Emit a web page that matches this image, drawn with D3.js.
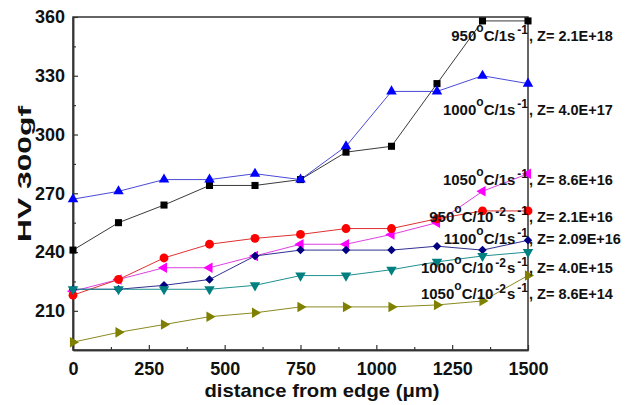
<!DOCTYPE html>
<html>
<head>
<meta charset="utf-8">
<script src="https://cdn.jsdelivr.net/npm/d3@7"></script>
<style>
  html, body { margin: 0; padding: 0; background: #fff; }
  svg text { font-family: "Liberation Sans", Arial, sans-serif; font-weight: bold; fill: #111; }
</style>
</head>
<body>
<svg id="chart" width="635" height="405"></svg>
<script>
// distance from edge (um)
const distances = [0, 150, 300, 450, 600, 750, 900, 1050, 1200, 1350, 1500];

// HV 300gf for each deformation condition
const hv950_1s = [241, 255, 264, 274, 274, 277, 291, 294, 326, 358, 358];
const hv1000_1s = [267, 271, 277, 277, 280, 277, 294, 322, 322, 330, 326];
const hv1050_1s = [220, 226, 232, 232, 238, 244, 244, 249, 255, 271, 280];
const hv950_slow = [218, 226, 237, 244, 247, 249, 252, 252, 257, 261, 261];
const hv1100_1s = [221, 221, 223, 226, 238, 241, 241, 241, 243, 241, 246];
const hv1000_slow = [221, 221, 221, 221, 223, 228, 228, 231, 235, 238, 240];
const hv1050_slow = [194, 199, 203, 207, 209, 212, 212, 212, 213, 215, 228];

// annotation text
const temps = ["950", "1000", "1050", "950", "1100", "1000", "1050"];
const slowRate = [false, false, false, true, false, true, true];
const zValues = ["2.1E+18", "4.0E+17", "8.6E+16", "2.1E+16", "2.09E+16", "4.0E+15", "8.6E+14"];
// annotation height in HV units
const labelHV = [347.8, 310, 274.3, 255.4, 244.2, 229.4, 216.1];

const xTicks = [0, 250, 500, 750, 1000, 1250, 1500];
const yTicks = [210, 240, 270, 300, 330, 360];

const series = [
  { values: hv950_1s, color: "#000000", line: "#3a3a3a", shape: "square" },
  { values: hv1000_1s, color: "#0000ff", line: "#4a4ad8", shape: "up" },
  { values: hv1050_1s, color: "#ff00ff", line: "#e040e0", shape: "left" },
  { values: hv950_slow, color: "#ff0000", line: "#e03030", shape: "circle" },
  { values: hv1100_1s, color: "#000080", line: "#303090", shape: "diamond" },
  { values: hv1000_slow, color: "#008080", line: "#209090", shape: "down" },
  { values: hv1050_slow, color: "#808000", line: "#8a8a20", shape: "right" }
];

const svg = d3.select("#chart");
const plot = { left: 73, right: 528, top: 17, bottom: 350 };

const x = d3.scaleLinear().domain([0, 1500]).range([plot.left, plot.right]);
const y = d3.scaleLinear().domain([190, 360]).range([plot.bottom, plot.top]);

// frame
svg.append("rect")
  .attr("x", plot.left).attr("y", plot.top)
  .attr("width", plot.right - plot.left).attr("height", plot.bottom - plot.top)
  .attr("fill", "none").attr("stroke", "#333").attr("stroke-width", 1.5);

// bottom axis, ticks pointing inward
const xAxis = svg.append("g")
  .attr("transform", `translate(0,${plot.bottom})`)
  .call(d3.axisBottom(x).tickValues(xTicks).tickFormat(d3.format("d"))
    .tickSizeInner(-5).tickSizeOuter(0).tickPadding(12));
svg.append("g")
  .attr("transform", `translate(0,${plot.bottom})`)
  .call(d3.axisBottom(x).tickValues([125, 375, 625, 875, 1125, 1375]).tickSizeInner(-3).tickSizeOuter(0).tickFormat(""));

const yAxis = svg.append("g")
  .attr("transform", `translate(${plot.left},0)`)
  .call(d3.axisLeft(y).tickValues(yTicks).tickSizeInner(-5).tickSizeOuter(0).tickPadding(8));
svg.append("g")
  .attr("transform", `translate(${plot.left},0)`)
  .call(d3.axisLeft(y).tickValues([195, 225, 255, 285, 315, 345]).tickSizeInner(-3).tickSizeOuter(0).tickFormat(""));

svg.selectAll(".domain").attr("stroke", "#333").attr("stroke-width", 1.5);
svg.selectAll(".tick line").attr("stroke", "#333").attr("stroke-width", 1.2);
svg.selectAll(".tick text").style("font-size", "18px").attr("fill", "#111");
xAxis.selectAll(".tick text").attr("dy", "0.71em");

// axis titles
svg.append("text")
  .attr("x", 322).attr("y", 397)
  .attr("text-anchor", "middle")
  .style("font-size", "19px")
  .attr("textLength", 235)
  .attr("lengthAdjust", "spacingAndGlyphs")
  .text("distance from edge (\u03bcm)");

svg.append("text")
  .attr("transform", "translate(31,174) rotate(-90)")
  .attr("text-anchor", "middle")
  .style("font-size", "19px")
  .attr("textLength", 136)
  .attr("lengthAdjust", "spacingAndGlyphs")
  .text("HV 300gf");

// markers
function markerPath(shape) {
  if (shape === "square") return d3.symbol(d3.symbolSquare, 50)();
  if (shape === "circle") return d3.symbol(d3.symbolCircle, 62)();
  if (shape === "diamond") return d3.symbol(d3.symbolSquare, 36)();
  return d3.symbol(d3.symbolTriangle, 48)();
}
const rotation = { up: 0, down: 180, left: -90, right: 90, diamond: 45, square: 0, circle: 0 };

const line = d3.line()
  .x((d, i) => x(distances[i]))
  .y(d => y(d));

series.forEach(s => {
  svg.append("path")
    .datum(s.values)
    .attr("d", line)
    .attr("fill", "none")
    .attr("stroke", s.line)
    .attr("stroke-width", 1);
});

series.forEach(s => {
  svg.append("g").selectAll("path")
    .data(s.values)
    .join("path")
    .attr("d", markerPath(s.shape))
    .attr("transform", (d, i) => `translate(${x(distances[i])},${y(d)}) rotate(${rotation[s.shape]})`)
    .attr("fill", s.color);
});

// annotations
temps.forEach((t, i) => {
  const yy = y(labelHV[i]);
  const left = svg.append("text")
    .attr("x", plot.right).attr("y", yy)
    .attr("text-anchor", "end")
    .style("font-size", "15px");
  left.append("tspan").text(t);
  left.append("tspan").attr("dy", -9).style("font-size", "12px").text("o");
  if (slowRate[i]) {
    left.append("tspan").attr("dy", 9).text("C/10");
    left.append("tspan").attr("dy", -6).attr("dx", 2).style("font-size", "12px").text("-2");
    left.append("tspan").attr("dy", 6).attr("dx", 1).text("s");
  } else {
    left.append("tspan").attr("dy", 9).text("C/1s");
  }
  left.append("tspan").attr("dy", -7).attr("dx", 2).style("font-size", "12px").text("-1");

  svg.append("text")
    .attr("x", plot.right + 1).attr("y", yy)
    .style("font-size", "14.5px")
    .text(", Z= " + zValues[i]);
});
</script>
</body>
</html>
